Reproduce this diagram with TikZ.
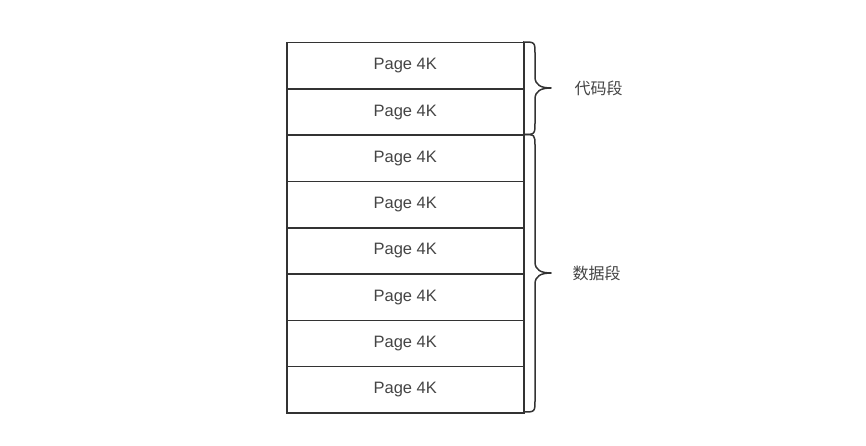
\documentclass[tikz,border=0pt]{standalone}
\usepackage{fontspec}
\setmainfont{Liberation Sans}
\newfontfamily\cjk{Noto Sans CJK SC}
\definecolor{linec}{HTML}{333333}
\definecolor{textc}{HTML}{444444}
\begin{document}
\begin{tikzpicture}[x=1pt,y=-1pt,
  pagebox/.style={draw=linec,line width=1.5pt,minimum width=237pt,minimum height=46.25pt,inner sep=0pt,anchor=north west,text=textc,font=\fontsize{16.5}{19}\selectfont},
  bracec/.style={draw=linec,line width=1.5pt,line join=round},
  lab/.style={text=textc,font=\cjk\fontsize{16}{19}\selectfont,anchor=west}]
\useasboundingbox (0,0) rectangle (866,446);
\foreach \i in {0,...,7}{
  \node[pagebox] (p\i) at (286,{42+46.25*\i}) {\raisebox{-1pt}{Page 4K}};
}
\coordinate (b1t) at (523,42);
\coordinate (b1b) at (523,134.5);
\coordinate (b2b) at (523,412);
\draw[bracec] (b1t) .. controls (535,42) .. (535,54) -- (535,77) .. controls (535,85) and (541,88) .. (551,88) .. controls (541,88) and (535,91) .. (535,99) -- (535,122) .. controls (535,134.5) .. (b1b);
\draw[bracec] (b1b) .. controls (535,134.5) .. (535,146) -- (535,262) .. controls (535,270) and (541,273) .. (551,273) .. controls (541,273) and (535,276) .. (535,284) -- (535,400) .. controls (535,412) .. (b2b);
\node[lab] (l1) at (571,88) {代码段};
\node[lab] (l2) at (569,273) {数据段};
\end{tikzpicture}
\end{document}
